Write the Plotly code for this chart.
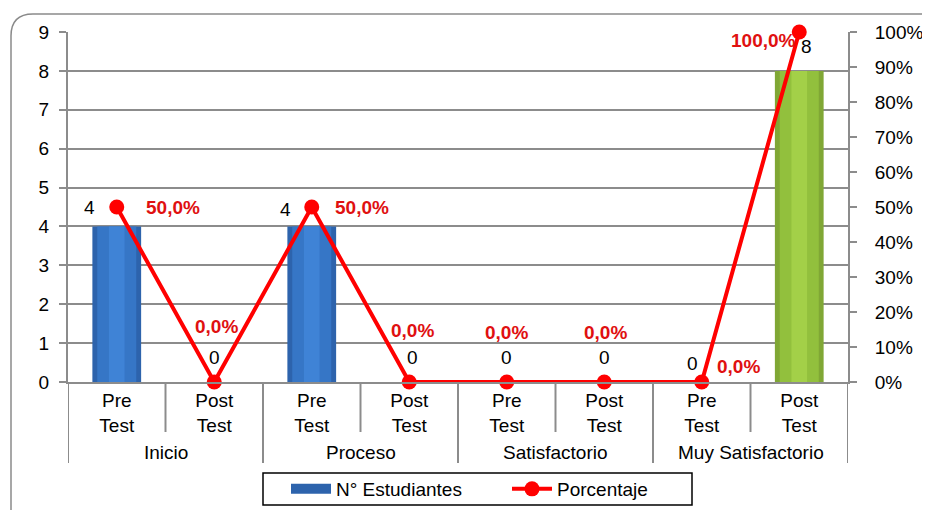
import plotly.graph_objects as go

groups = ["Inicio", "Proceso", "Satisfactorio", "Muy Satisfactorio"]
tests = ["Pre Test", "Post Test"]
estudiantes = [4, 0, 4, 0, 0, 0, 0, 8]
porcentaje = [0.5, 0.0, 0.5, 0.0, 0.0, 0.0, 0.0, 1.0]

n = len(estudiantes)
xs = list(range(n))
tick_text = [t.replace(" ", "<br>") for g in groups for t in tests]

FONT = "Liberation Sans, Arial, sans-serif"
FS = 19

# shading layers (edge, body, highlight) for blue and green bars
blue_shades = ["#2d63ac", "#3676c6", "#3f83d6"]
green_shades = ["#80a735", "#92c03d", "#a3d048"]
layer_widths = [0.5, 0.4, 0.16]

# page body has an 8px default margin: figure is drawn from (8, 8)
OFF = 8
PL, PR, PT, PB = 68, 848, 32, 382  # plot area in window pixels
W, H = 930 - OFF, 510 - OFF
PH = PB - PT
PW = PR - PL

fig = go.Figure()
for k, wdt in enumerate(layer_widths):
    cols = [green_shades[k] if i >= 6 else blue_shades[k] for i in xs]
    fig.add_trace(go.Bar(
        x=xs, y=estudiantes, name="N° Estudiantes", width=wdt,
        marker=dict(color=cols, line=dict(width=0)),
        yaxis="y", showlegend=False, hoverinfo="skip" if k else None,
    ))
# legend proxy for the bar series (wide rectangle symbol)
fig.add_trace(go.Scatter(
    x=[None], y=[None], name="N° Estudiantes", mode="lines",
    line=dict(color=blue_shades[0], width=11), yaxis="y", showlegend=True,
))
fig.add_trace(go.Scatter(
    x=xs, y=porcentaje, name="Porcentaje", mode="lines+markers",
    line=dict(color="#ff0000", width=4), marker=dict(color="#ff0000", size=15),
    yaxis="y2", cliponaxis=False,
))

# label offsets (pixels)
count_off = [(-27, 19), (0, 25), (-26, 17), (3, 25), (0, 25), (0, 25), (-9, 19), (7, 24)]
pct_off = [(56, 0), (2, 56), (50, 0), (3, 52), (0, 50), (1, 50), (37, 16), (-36, -8)]

ann = []
for i in xs:
    dx, dy = count_off[i]
    ann.append(dict(x=i, y=estudiantes[i], xref="x", yref="y", text=str(estudiantes[i]),
                    showarrow=False, xshift=dx, yshift=dy,
                    font=dict(family=FONT, size=FS, color="#000000")))
    dx, dy = pct_off[i]
    ann.append(dict(x=i, y=porcentaje[i], xref="x", yref="y2",
                    text="<b>" + f"{porcentaje[i]*100:.1f}".replace(".", ",") + "%</b>",
                    showarrow=False, xshift=dx, yshift=dy,
                    font=dict(family=FONT, size=FS, color="#e01010")))
for gi, g in enumerate(groups):
    ann.append(dict(x=gi * 2 + 0.5, y=(PB - 452) / PH, xref="x", yref="paper", text=g,
                    showarrow=False, yanchor="middle",
                    font=dict(family=FONT, size=FS, color="#000000")))

shapes = []
div_col = "#8c8c8c"
for gi in range(len(groups)):
    shapes.append(dict(type="line", xref="x", yref="paper", x0=gi * 2 + 0.5, x1=gi * 2 + 0.5,
                       y0=0, y1=-50 / PH, line=dict(color=div_col, width=2)))
for b in range(len(groups) + 1):
    shapes.append(dict(type="line", xref="x", yref="paper", x0=b * 2 - 0.5, x1=b * 2 - 0.5,
                       y0=0, y1=-81 / PH, line=dict(color=div_col, width=2)))

# outer rounded border
L = (11 - PL) / PW
T = (PB - 14) / PH
R = (940 - PL) / PW
B = (PB - 520) / PH
rx = 22 / PW
ry = 22 / PH
path = f"M {L},{B} L {L},{T-ry} Q {L},{T} {L+rx},{T} L {R},{T}"
shapes.append(dict(type="path", xref="paper", yref="paper", path=path,
                   line=dict(color="#8a8a8a", width=1.5), layer="below"))

# legend frame
shapes.append(dict(type="rect", xref="paper", yref="paper",
                   x0=(263 - PL) / PW, x1=(692 - PL) / PW,
                   y0=(PB - 473) / PH, y1=(PB - 505) / PH,
                   line=dict(color="#000000", width=1.5), fillcolor="rgba(0,0,0,0)"))

fig.update_layout(
    width=W, height=H,
    margin=dict(l=PL - OFF, r=930 - PR, t=PT - OFF, b=510 - PB, autoexpand=False),
    paper_bgcolor="white", plot_bgcolor="white",
    barmode="overlay",
    font=dict(family=FONT, size=FS, color="#000000"),
    xaxis=dict(tickmode="array", tickvals=xs, ticktext=tick_text, range=[-0.5, n - 0.5],
               showgrid=False, showline=True, linecolor=div_col, linewidth=2, ticks="",
               zeroline=False, tickfont=dict(size=FS), automargin=False),
    yaxis=dict(range=[0, 9], dtick=1, showgrid=True, gridcolor="#8c8c8c", gridwidth=1.5,
               showline=True, linecolor=div_col, linewidth=2, ticks="outside", ticklen=7,
               tickcolor=div_col, tickwidth=2, zeroline=False, tickfont=dict(size=FS),
               ticklabelstandoff=6, automargin=False),
    yaxis2=dict(range=[0, 1], dtick=0.1, tickformat=".0%", overlaying="y", side="right",
                showgrid=False, showline=True, linecolor=div_col, linewidth=2, ticks="outside",
                ticklen=7, tickcolor=div_col, tickwidth=2, zeroline=False, tickfont=dict(size=FS),
                ticklabelstandoff=14, automargin=False),
    legend=dict(orientation="h", x=(286 - PL) / PW, xanchor="left", y=(PB - 470) / PH,
                yanchor="top", borderwidth=0, bgcolor="rgba(0,0,0,0)", font=dict(size=FS),
                entrywidth=166, itemwidth=40, traceorder="normal"),
    annotations=ann, shapes=shapes, showlegend=True,
)

fig.write_html("out.html")
